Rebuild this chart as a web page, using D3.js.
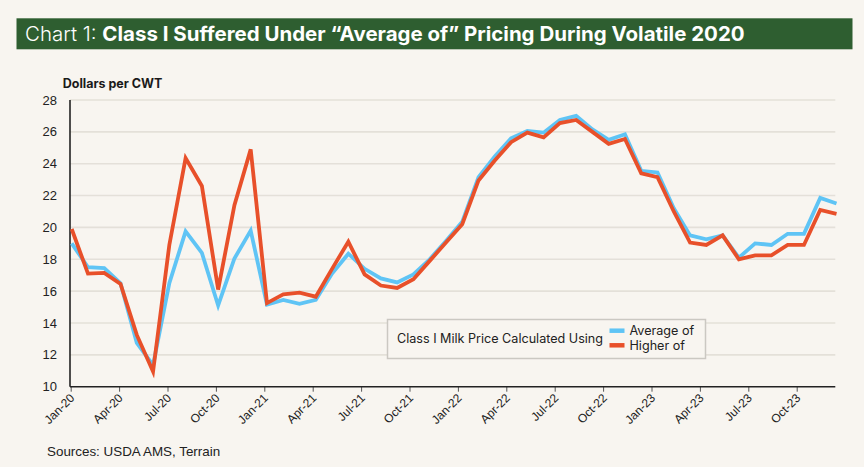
<!DOCTYPE html>
<html><head><meta charset="utf-8">
<script src="https://cdn.jsdelivr.net/npm/d3@7"></script>
<style>
html,body{margin:0;padding:0;background:#f8f5f0;}
svg{display:block;}
</style></head>
<body>
<svg id="c" width="864" height="467"></svg>
<script>
const months = ["Jan-20","Feb-20","Mar-20","Apr-20","May-20","Jun-20","Jul-20","Aug-20","Sep-20","Oct-20","Nov-20","Dec-20",
"Jan-21","Feb-21","Mar-21","Apr-21","May-21","Jun-21","Jul-21","Aug-21","Sep-21","Oct-21","Nov-21","Dec-21",
"Jan-22","Feb-22","Mar-22","Apr-22","May-22","Jun-22","Jul-22","Aug-22","Sep-22","Oct-22","Nov-22","Dec-22",
"Jan-23","Feb-23","Mar-23","Apr-23","May-23","Jun-23","Jul-23","Aug-23","Sep-23","Oct-23","Nov-23","Dec-23"];
const averageOf = [19.0,17.5,17.45,16.5,12.75,11.35,16.5,19.75,18.4,15.1,18.05,19.8,
15.15,15.45,15.2,15.45,17.1,18.35,17.4,16.8,16.55,17.05,18.0,19.15,
20.35,23.15,24.45,25.6,26.05,25.95,26.75,27.0,26.15,25.5,25.85,23.55,
23.45,21.2,19.5,19.25,19.5,18.1,19.0,18.9,19.6,19.6,21.85,21.5];
const higherOf = [19.9,17.1,17.15,16.45,13.25,10.95,18.9,24.35,22.6,16.1,21.4,24.9,
15.25,15.8,15.9,15.65,17.4,19.1,17.05,16.35,16.2,16.75,17.9,19.05,
20.2,22.95,24.2,25.35,25.95,25.65,26.55,26.75,26.0,25.25,25.55,23.4,
23.15,21.0,19.05,18.9,19.5,18.0,18.25,18.25,18.9,18.9,21.1,20.85];
const yTicks = [10,12,14,16,18,20,22,24,26,28];
const seriesNames = ["Average of","Higher of"];
const seriesColors = ["#5fc4f5","#e8502a"];

const svg = d3.select("#c");
svg.append("rect").attr("width",864).attr("height",467).attr("fill","#f8f5f0");

// title bar
svg.append("rect").attr("x",16.5).attr("y",18.3).attr("width",836).attr("height",31).attr("fill","#2e5e30");
const title = svg.append("text").attr("x",25).attr("y",40.8).attr("fill","#fff")
  .style("font-family","Inter, 'Noto Sans', sans-serif").style("font-size","20px");
title.append("tspan").attr("font-weight",300).text("Chart 1: ");
title.append("tspan").attr("font-weight",700).text("Class I Suffered Under \u201CAverage of\u201D Pricing During Volatile 2020");
const tw = title.node().getComputedTextLength();
title.attr("transform",`translate(25,0) scale(${720/tw},1) translate(-25,0)`);

// scales
const y = d3.scaleLinear().domain([10,28]).range([386.7,100]);
const xData = d3.scaleLinear().domain([0,months.length-1]).range([71.7,836.5]);
const xTick = d3.scaleLinear().domain([0,45]).range([70.7,796.7]);
const x0 = 70, x1 = 835.3;

// gridlines
svg.append("g").selectAll("line").data(yTicks.filter(d=>d>10)).join("line")
  .attr("x1",x0).attr("x2",x1).attr("y1",d=>y(d)).attr("y2",d=>y(d))
  .attr("stroke","#e4e0d9").attr("stroke-width",1.6);

// y labels
svg.append("g").selectAll("text").data(yTicks).join("text")
  .attr("x",57).attr("y",d=>y(d)+4.6).attr("text-anchor","end")
  .style("font-family","'Liberation Sans', Arial, sans-serif").style("font-size","13px").attr("fill","#222")
  .text(d=>d);

svg.append("text").attr("x",62.7).attr("y",88).text("Dollars per CWT")
  .style("font-family","Inter, 'Noto Sans', sans-serif").style("font-size","12.5px").style("font-weight",700).attr("fill","#1a1a1a");

// x axis
const xAxis = d3.axisBottom(xTick).tickValues(d3.range(0,46,3)).tickSize(5).tickFormat(i=>months[i]);
const gx = svg.append("g").attr("transform",`translate(0,${y(10)})`).call(xAxis);
gx.select(".domain").remove();
gx.selectAll(".tick line").attr("stroke","#555").attr("stroke-width",1);
gx.selectAll(".tick text").attr("text-anchor","end").attr("dy",0).attr("y",0)
  .attr("transform","translate(4,12) rotate(-45)")
  .style("font-family","'Liberation Sans', Arial, sans-serif").style("font-size","12px").attr("fill","#222");

svg.append("line").attr("x1",x0).attr("x2",x1).attr("y1",y(10)).attr("y2",y(10)).attr("stroke","#222").attr("stroke-width",1.6);
svg.append("line").attr("x1",x0).attr("x2",x0).attr("y1",y(28)).attr("y2",y(10)).attr("stroke","#222").attr("stroke-width",1.6);

// lines
const line = d3.line().x((d,i)=>xData(i)).y(d=>y(d));
[averageOf, higherOf].forEach((s,k)=>{
  svg.append("path").datum(s).attr("d",line).attr("fill","none")
    .attr("stroke",seriesColors[k]).attr("stroke-width",3.8).attr("stroke-linejoin","miter").attr("stroke-miterlimit",4);
});

// legend
const lg = svg.append("g");
lg.append("rect").attr("x",387.5).attr("y",319.5).attr("width",318).attr("height",39)
  .attr("fill","#f8f5f0").attr("stroke","#cbc8c2").attr("stroke-width",1.5);
lg.append("text").attr("x",397).attr("y",343).text("Class I Milk Price Calculated Using")
  .style("font-family","Inter, 'Noto Sans', sans-serif").style("font-size","12.6px").attr("fill","#222");
seriesNames.forEach((n,k)=>{
  const yy = 330.7 + k*14.6;
  lg.append("line").attr("x1",609.5).attr("x2",624.5).attr("y1",yy).attr("y2",yy)
    .attr("stroke",seriesColors[k]).attr("stroke-width",4.5);
  lg.append("text").attr("x",629.5).attr("y",yy+4.5).text(n)
    .style("font-family","Inter, 'Noto Sans', sans-serif").style("font-size","12.6px").attr("fill","#222");
});

svg.append("text").attr("x",47).attr("y",456).text("Sources: USDA AMS, Terrain")
  .style("font-family","'Liberation Sans', Arial, sans-serif").style("font-size","13.4px").attr("fill","#222");
</script>
</body></html>
